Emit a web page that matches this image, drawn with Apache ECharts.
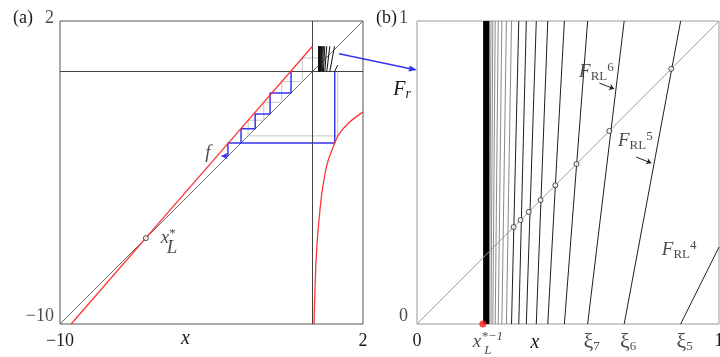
<!DOCTYPE html>
<html>
<head>
<meta charset="utf-8">
<script src="https://cdn.jsdelivr.net/npm/echarts@6/dist/echarts.min.js"></script>
<style>
html, body { margin: 0; padding: 0; background: #fff; }
#c { width: 720px; height: 357px; }
</style>
</head>
<body>
<div id="c"></div>
<script>
// ---------- panel (a): the map f on [-10, 2] ----------
const aTicks = [-10, 2];
const diagA = [[-10, -10], [2, 2]];
// left branch of f
const fLeft = [[-9.56, -10], [-3.68, -3.23], [0, 1]];
const fLabelAt = [[-3.68, -3.23]];
// right branch of f
const fRight = [[0.06, -10], [0.08, -9.2], [0.11, -8.3], [0.14, -7.5], [0.19, -6.7], [0.26, -5.85],
                [0.375, -4.8], [0.57, -3.7], [0.88, -2.83], [1.05, -2.48], [1.44, -2.03], [2.0, -1.6]];
const fixedL = [[-6.6, -6.6]];
// orbit staircases
const orbitBlue = [[-3.60, -3.35], [-3.35, -3.35], [-3.35, -2.83], [-2.83, -2.83], [-2.83, -2.27],
                   [-2.27, -2.27], [-2.27, -1.68], [-1.68, -1.68], [-1.68, -0.85], [-0.85, -0.85], [-0.85, 0]];
const reinjectBlue = [[0.88, 0], [0.88, -2.83], [-2.83, -2.83]];
const orbitGrey = [[1.0, 0], [1.0, -2.55], [-2.55, -2.55], [-2.55, -1.93], [-1.93, -1.93], [-1.93, -1.22],
                   [-1.22, -1.22], [-1.22, -0.40], [-0.40, -0.40], [-0.40, 0.54], [0.54, 0.54]];

// ---------- panel (b): first-return map F_r on [0, 1] ----------
const bTicks = [0, 1];
const diagB = [[0, 0], [1, 1]];
// xi_5, xi_6, xi_7, ... accumulating on x_L^{*-1}
const xi = [0.873, 0.686, 0.565, 0.488, 0.433, 0.395, 0.362, 0.337, 0.313,
            0.296, 0.281, 0.269, 0.259, 0.251, 0.245, 0.240];
const xiNames = ['5', '6', '7'];
const branch4 = [[0.873, 0], [1, 0.254]];
const band = [0.219, 0.240];
const fixedB = [[0.842, 0.842], [0.637, 0.637], [0.528, 0.528], [0.458, 0.458],
                [0.409, 0.409], [0.370, 0.370], [0.343, 0.343], [0.320, 0.320]];
const xLinv = [[0.218, 0]];
const frlNames = ['6', '5', '4'];
const frlText = [[0.594, 0.832], [0.723, 0.604], [0.868, 0.244]];
const frlArrows = [[[0.604, 0.795], [0.653, 0.776]], [[0.726, 0.551], [0.776, 0.531]]];
// link from the small box in (a) to panel (b)
const linkFrom = [1.05, 0.70];
const linkTo = [0, 0.838];

const SERIF = "'Liberation Serif', 'Times New Roman', serif";
const INK = '#1a1a1a';
const RED = '#ff3434';
const BLUE = '#3434f2';

const chart = echarts.init(document.getElementById('c'), null, { renderer: 'canvas' });

const baseRich = {
  it:  { fontFamily: SERIF, fontStyle: 'italic', fontSize: 19, lineHeight: 22, color: INK },
  rm:  { fontFamily: SERIF, fontSize: 19, lineHeight: 22, color: INK },
  xi:  { fontFamily: SERIF, fontSize: 22, lineHeight: 22, color: INK },
  sub: { fontFamily: SERIF, fontSize: 13, lineHeight: 10, verticalAlign: 'bottom', color: INK },
  subIt: { fontFamily: SERIF, fontStyle: 'italic', fontSize: 13, lineHeight: 10, verticalAlign: 'bottom', color: INK },
  sup: { fontFamily: SERIF, fontSize: 13, lineHeight: 10, verticalAlign: 'top', color: INK },
  supIt: { fontFamily: SERIF, fontStyle: 'italic', fontSize: 13, lineHeight: 10, verticalAlign: 'top', color: INK }
};

const fmtNum = v => (v < 0 ? '\u2212' + Math.abs(v) : String(v));

function xAxisOf(gridIndex, ticks, nameShift, nameGap) {
  return {
    gridIndex, type: 'value', min: ticks[0], max: ticks[1], interval: 1,
    axisLine: { show: false }, axisTick: { show: false }, splitLine: { show: false },
    axisLabel: {
      margin: 8, fontFamily: SERIF, fontSize: 18, color: INK,
      formatter: v => (ticks.includes(v) ? fmtNum(v) : '')
    },
    name: 'x', nameLocation: 'middle', nameGap, nameMoveOverlap: false,
    nameTextStyle: { fontFamily: SERIF, fontStyle: 'italic', fontSize: 20, color: INK,
                     verticalAlign: 'top', padding: [0, nameShift, 0, 0] }
  };
}
function yAxisOf(gridIndex, ticks) {
  return {
    gridIndex, type: 'value', min: ticks[0], max: ticks[1], interval: 1,
    axisLine: { show: false }, axisTick: { show: false }, splitLine: { show: false },
    axisLabel: { show: false }
  };
}
// y tick labels placed beside the left edge at each tick value
function yTickLabels(axis, ticks, xAt, dist) {
  return Object.assign({ type: 'scatter', symbolSize: 0, clip: false, silent: true, z: 8,
    data: ticks.map((v, i) => ({ value: [xAt, v],
      label: { offset: [0, i === 0 ? -8 : -3] } })),
    label: { show: true, position: 'left', distance: dist, fontFamily: SERIF, fontSize: 18, color: INK,
      formatter: p => fmtNum(p.value[1]) } }, axis);
}

const xiSegs = [];
for (let k = 0; k < xi.length - 1; k++) xiSegs.push([[xi[k + 1], 0], [xi[k], 1]]);

const A = { xAxisIndex: 0, yAxisIndex: 0 };
const B = { xAxisIndex: 1, yAxisIndex: 1 };
const noSym = { symbol: 'none', showSymbol: false, silent: true };
const hollow = { color: '#fff', borderColor: '#222', borderWidth: 1 };

const series = [
  // ----- (a) -----
  Object.assign({ type: 'line', data: diagA, z: 2, lineStyle: { color: '#6a6a6a', width: 1 },
    markLine: { silent: true, symbol: 'none', label: { show: false },
      lineStyle: { color: '#444', width: 1, type: 'solid' },
      data: [{ xAxis: 0 }, { yAxis: 0 }] } }, A, noSym),
  Object.assign({ type: 'line', data: orbitGrey, z: 3, lineStyle: { color: '#c6c6c6', width: 1 } }, A, noSym),
  Object.assign({ type: 'line', data: reinjectBlue, z: 4, lineStyle: { color: BLUE, width: 1.5 } }, A, noSym),
  Object.assign({ type: 'line', z: 4, lineStyle: { color: BLUE, width: 1.5 }, symbol: 'none', showSymbol: true, silent: true,
    itemStyle: { color: BLUE },
    data: orbitBlue.map((p, i) => (i === 0 ? { value: p, symbol: 'arrow', symbolSize: [5, 6], symbolRotate: 90 } : p)) }, A),
  Object.assign({ type: 'line', data: fLeft, z: 5, lineStyle: { color: RED, width: 1.3 } }, A, noSym),
  Object.assign({ type: 'scatter', data: fLabelAt, z: 8, symbolSize: 0, silent: true,
    label: { show: true, position: 'left', distance: 9, formatter: '{it|f}', rich: baseRich } }, A),
  Object.assign({ type: 'line', data: fRight, z: 5, smooth: 0.3,
    lineStyle: { color: RED, width: 1.3 } }, A, noSym),
  Object.assign({ type: 'lines', coordinateSystem: 'cartesian2d', z: 6, silent: true,
    lineStyle: { color: '#111', width: 1, opacity: 1 },
    data: xiSegs.concat([branch4]).map(c => ({ coords: c })) }, A),
  Object.assign({ type: 'scatter', data: fixedL, z: 7, symbol: 'circle', symbolSize: 5, silent: true,
    itemStyle: hollow,
    label: { show: true, position: 'right', distance: 12, formatter: '{it|x}{sup|*}', rich: baseRich } }, A),
  Object.assign({ type: 'scatter', data: fixedL, z: 7, symbolSize: 0, silent: true,
    label: { show: true, position: 'right', distance: 12, offset: [9, 10], formatter: '{it|L}', rich: baseRich } }, A),
  yTickLabels(A, aTicks, aTicks[0], 6),

  // ----- (b) -----
  Object.assign({ type: 'line', data: diagB, z: 2, lineStyle: { color: '#9a9a9a', width: 1 } }, B, noSym),
  Object.assign({ type: 'lines', coordinateSystem: 'cartesian2d', z: 3, silent: true,
    data: xiSegs.map(c => ({ coords: c, lineStyle: { color: c[0][0] < 0.30 ? '#8a8a8a' : '#1e1e1e', width: 1, opacity: 1 } })) }, B),
  Object.assign({ type: 'line', data: branch4, z: 3, lineStyle: { color: '#1e1e1e', width: 1 } }, B, noSym),
  Object.assign({ type: 'line', data: [[band[0], 0]], z: 4, lineStyle: { width: 0 },
    markArea: { silent: true, itemStyle: { color: '#000' },
      data: [[{ xAxis: band[0], yAxis: 0 }, { xAxis: band[1], yAxis: 1 }]] } }, B, noSym),
  Object.assign({ type: 'scatter', data: fixedB, z: 5, symbol: 'circle', symbolSize: 5, silent: true,
    itemStyle: hollow }, B),
  Object.assign({ type: 'scatter', data: xLinv, z: 6, symbolSize: 7, clip: false, silent: true,
    itemStyle: { color: '#ff1a1a' },
    label: { show: true, position: 'bottom', distance: 3, offset: [5, 0],
      formatter: '{it|x}{supIt|*\u22121}', rich: baseRich } }, B),
  Object.assign({ type: 'scatter', data: xLinv, z: 6, symbolSize: 0, clip: false, silent: true,
    label: { show: true, position: 'bottom', distance: 23, offset: [5, 0],
      formatter: '{subIt|L}', rich: baseRich } }, B),
  Object.assign({ type: 'scatter', z: 6, symbolSize: 0, clip: false, silent: true,
    data: xiNames.map((n, k) => ({ value: [xi[k], 0], name: n })),
    label: { show: true, position: 'bottom', distance: 7, offset: [4, 0],
      formatter: p => '{xi|\u03be}{sub|' + p.name + '}', rich: baseRich } }, B),
  Object.assign({ type: 'scatter', z: 6, symbolSize: 0, silent: true,
    data: frlNames.map((n, k) => ({ value: frlText[k], name: n })),
    label: { show: true, position: 'inside',
      formatter: p => '{it|F}{sub|RL}{sup|' + p.name + '}', rich: baseRich } }, B),
  Object.assign({ type: 'lines', coordinateSystem: 'cartesian2d', z: 6, silent: true,
    symbol: ['none', 'arrow'], symbolSize: 5,
    lineStyle: { color: '#222', width: 1, opacity: 1 },
    data: frlArrows.map(c => ({ coords: c })) }, B),
  yTickLabels(B, bTicks, bTicks[0], 9)
];

chart.setOption({
  animation: false,
  backgroundColor: '#fff',
  textStyle: { fontFamily: SERIF },
  title: [
    { text: '(a)', left: 8, top: 4, textStyle: { fontFamily: SERIF, fontSize: 18, fontWeight: 'normal', color: INK } },
    { text: '(b)', left: 371, top: 4, textStyle: { fontFamily: SERIF, fontSize: 18, fontWeight: 'normal', color: INK } }
  ],
  grid: [
    { left: 60, top: 21, width: 303, height: 303, show: true, borderColor: '#555', borderWidth: 1,
      outerBoundsMode: 'none', containLabel: false },
    { left: 417, top: 21, width: 302, height: 303, show: true, borderColor: '#9a9a9a', borderWidth: 1,
      outerBoundsMode: 'none', containLabel: false }
  ],
  xAxis: [xAxisOf(0, aTicks, 52, 5), xAxisOf(1, bTicks, 66, 9)],
  yAxis: [
    yAxisOf(0, aTicks),
    Object.assign(yAxisOf(1, bTicks), {
      name: '{F|F}{r|r}', nameLocation: 'end', nameGap: -69, nameMoveOverlap: false,
      nameTextStyle: { align: 'right', verticalAlign: 'middle', padding: [0, 6, 0, 0],
        rich: {
          F: { fontFamily: SERIF, fontStyle: 'italic', fontSize: 20, lineHeight: 22, color: INK },
          r: { fontFamily: SERIF, fontStyle: 'italic', fontSize: 14, lineHeight: 10, verticalAlign: 'bottom', color: INK }
        } }
    })
  ],
  series
});

// connector arrow from the small box in (a) to the F_r axis of (b)
const p0 = chart.convertToPixel({ xAxisIndex: 0, yAxisIndex: 0 }, linkFrom);
const p1 = chart.convertToPixel({ xAxisIndex: 1, yAxisIndex: 1 }, linkTo);
const ang = Math.atan2(p1[1] - p0[1], p1[0] - p0[0]);
const hl = 8, hw = 3;
const base = [p1[0] - hl * Math.cos(ang), p1[1] - hl * Math.sin(ang)];
chart.setOption({
  graphic: [
    { type: 'line', z: 100, silent: true,
      shape: { x1: p0[0], y1: p0[1], x2: base[0], y2: base[1] },
      style: { stroke: BLUE, lineWidth: 1.5 } },
    { type: 'polygon', z: 100, silent: true,
      shape: { points: [p1,
        [base[0] + hw * Math.sin(ang), base[1] - hw * Math.cos(ang)],
        [base[0] - hw * Math.sin(ang), base[1] + hw * Math.cos(ang)]] },
      style: { fill: BLUE } }
  ]
});
</script>
</body>
</html>
